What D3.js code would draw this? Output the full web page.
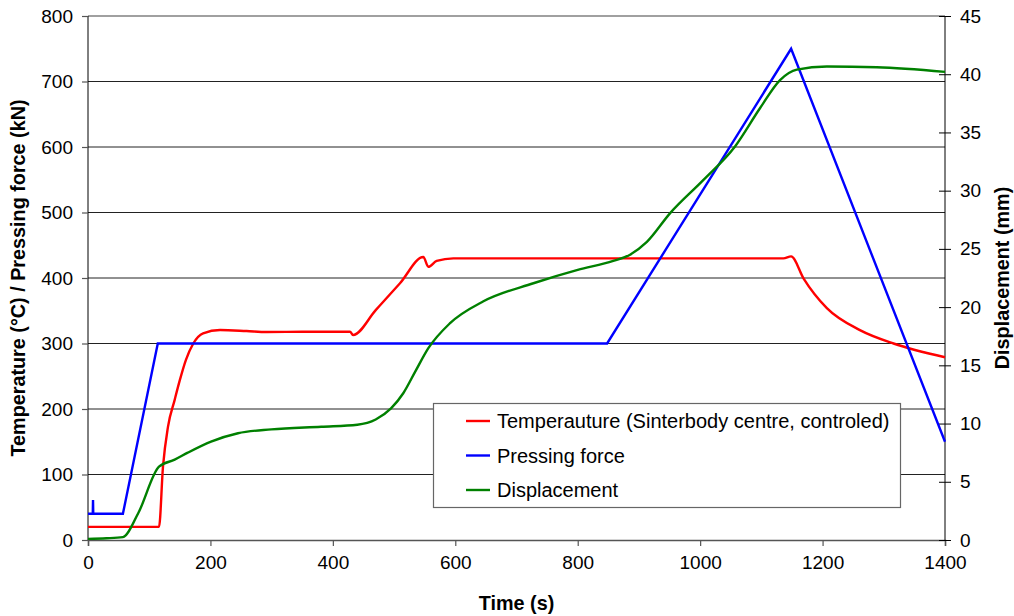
<!DOCTYPE html>
<html>
<head>
<meta charset="utf-8">
<script src="https://cdn.jsdelivr.net/npm/d3@7"></script>
<style>
  body { margin: 0; background: #fff; }
  svg { font-family: "Liberation Sans", Arial, sans-serif; }
  .tick text { font-size: 19px; fill: #000; }
  .axis-title { font-size: 19.8px; font-weight: bold; }
  .legend text { font-size: 20px; }
</style>
</head>
<body>
<script>
// Temperature (°C), left axis
var tempTime  = [0, 116, 122.5, 130.7, 141.6, 150, 160, 172, 188, 215.7, 259, 292, 350, 428, 433, 470, 509.7, 547.8, 556, 569.6, 596.8, 700, 850, 1000, 1136, 1148.6, 1168.8, 1207, 1261, 1316, 1400];
var tempValue = [20, 20, 112, 173, 214, 244, 275, 300, 315.5, 320.5, 319, 317.5, 318, 318, 313, 351, 392, 432, 417, 426, 430, 430, 430, 430, 430, 433, 399.5, 354, 320.5, 300, 279];

// Pressing force (kN), left axis
var forceTime  = [0, 7.8, 8.2, 8.6, 57, 114, 848, 1148.6, 1400];
var forceValue = [40, 40, 61, 40, 40, 300, 300, 750, 150];

// Displacement (mm), right axis
var dispTime  = [0, 30, 57, 82, 116, 141.6, 163, 201, 245, 299.5, 381, 440, 470, 495, 515, 535, 556, 591, 646, 727.6, 800, 858, 885.5, 913, 951, 1005, 1057, 1098, 1130.5, 1158, 1207, 1288.6, 1400];
var dispValue = [0.1, 0.15, 0.25, 2.3, 6.3, 6.9, 7.5, 8.45, 9.17, 9.5, 9.73, 9.9, 10.35, 11.3, 12.6, 14.5, 16.47, 18.6, 20.5, 22.05, 23.2, 23.97, 24.5, 25.6, 28.07, 30.9, 33.8, 37.1, 39.5, 40.4, 40.66, 40.6, 40.2];

var xTicks = [0, 200, 400, 600, 800, 1000, 1200, 1400];
var yLeftTicks = [0, 100, 200, 300, 400, 500, 600, 700, 800];
var yRightTicks = [0, 5, 10, 15, 20, 25, 30, 35, 40, 45];

var legendNames = ["Temperauture (Sinterbody centre, controled)", "Pressing force", "Displacement"];
var colors = ["#ff0000", "#0000ff", "#008000"];

var W = 1014, H = 616;
var margin = {top: 16, right: 69, bottom: 76, left: 88},
    width = W - margin.left - margin.right,
    height = H - margin.top - margin.bottom;

var svg = d3.select("body").append("svg")
    .attr("width", W)
    .attr("height", H)
  .append("g")
    .attr("transform", "translate(" + margin.left + "," + margin.top + ")");

var x = d3.scaleLinear().domain([0, 1400]).range([0, width]);
var yL = d3.scaleLinear().domain([0, 800]).range([height, 0]);
var yR = d3.scaleLinear().domain([0, 45]).range([height, 0]);

// gridlines
svg.selectAll(".grid")
    .data(yLeftTicks.slice(1))
    .enter().append("line")
    .attr("class", "grid")
    .attr("x1", 0)
    .attr("x2", width)
    .attr("y1", function(d) { return yL(d); })
    .attr("y2", function(d) { return yL(d); })
    .style("stroke", function(d) { return d == 800 ? "#808080" : "#222"; })
    .style("stroke-width", function(d) { return d == 800 ? 1.5 : 1; });

var xAxis = d3.axisBottom(x).tickValues(xTicks).tickSize(6).tickPadding(10).tickFormat(d3.format("d"));
var yAxisL = d3.axisLeft(yL).tickValues(yLeftTicks).tickSize(6).tickPadding(9);
var yAxisR = d3.axisRight(yR).tickValues(yRightTicks).tickSize(6).tickPadding(9);

var gx = svg.append("g")
    .attr("transform", "translate(0," + height + ")")
    .call(xAxis);
gx.select(".domain").attr("stroke", "#555").attr("stroke-width", 1.5);
gx.selectAll(".tick line").attr("stroke", "#555").attr("stroke-width", 1.2);

var gl = svg.append("g").call(yAxisL);
gl.select(".domain").attr("d", "M0," + height + "V0").attr("stroke", "#000");
gl.selectAll(".tick line").attr("stroke", "#555").attr("stroke-width", 1.2);

var gr = svg.append("g")
    .attr("transform", "translate(" + width + ",0)")
    .call(yAxisR);
gr.select(".domain").attr("d", "M0," + height + "V0").attr("stroke", "#000");
gr.selectAll(".tick line").attr("x1", -6).attr("stroke", "#000");

// series
var lineL = d3.line()
    .x(function(d) { return x(d[0]); })
    .y(function(d) { return yL(d[1]); });

var lineLs = d3.line()
    .curve(d3.curveMonotoneX)
    .x(function(d) { return x(d[0]); })
    .y(function(d) { return yL(d[1]); });

var lineR = d3.line()
    .curve(d3.curveMonotoneX)
    .x(function(d) { return x(d[0]); })
    .y(function(d) { return yR(d[1]); });

function pairs(t, v) { return t.map(function(d, i) { return [d, v[i]]; }); }

svg.append("path")
    .datum(pairs(tempTime, tempValue))
    .attr("d", lineLs)
    .attr("fill", "none")
    .attr("stroke", colors[0])
    .attr("stroke-width", 2.4);

svg.append("path")
    .datum(pairs(forceTime, forceValue))
    .attr("d", lineL)
    .attr("fill", "none")
    .attr("stroke", colors[1])
    .attr("stroke-width", 2.4);

svg.append("path")
    .datum(pairs(dispTime, dispValue))
    .attr("d", lineR)
    .attr("fill", "none")
    .attr("stroke", colors[2])
    .attr("stroke-width", 2.4);

// legend
var legend = svg.append("g")
    .attr("class", "legend")
    .attr("transform", "translate(" + (433 - margin.left) + "," + (403 - margin.top) + ")");

legend.append("rect")
    .attr("x", 0.5)
    .attr("y", 0.5)
    .attr("width", 467)
    .attr("height", 104)
    .attr("fill", "#fff")
    .attr("stroke", "#666")
    .attr("stroke-width", 1.2);

legendNames.forEach(function(name, i) {
  var yy = 18 + i * 34.5;
  legend.append("line")
      .attr("x1", 33)
      .attr("x2", 57)
      .attr("y1", yy)
      .attr("y2", yy)
      .attr("stroke", colors[i])
      .attr("stroke-width", 2.4);
  legend.append("text")
      .attr("x", 64)
      .attr("y", yy)
      .attr("dy", "0.35em")
      .text(name);
});

// axis titles
svg.append("text")
    .attr("class", "axis-title")
    .attr("text-anchor", "middle")
    .attr("transform", "translate(" + (25 - margin.left) + "," + (height / 2) + ") rotate(-90)")
    .text("Temperature (°C) / Pressing force (kN)");

svg.append("text")
    .attr("class", "axis-title")
    .attr("text-anchor", "middle")
    .attr("transform", "translate(" + (width + 64) + "," + (height / 2) + ") rotate(-90)")
    .text("Displacement (mm)");

svg.append("text")
    .attr("class", "axis-title")
    .attr("text-anchor", "middle")
    .attr("x", width / 2)
    .attr("y", height + 70)
    .text("Time (s)");
</script>
</body>
</html>
